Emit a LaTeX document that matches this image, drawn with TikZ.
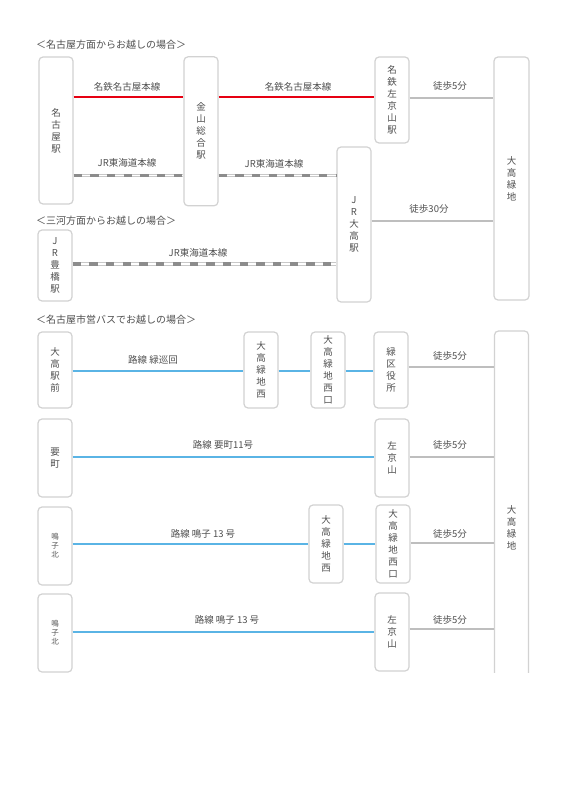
\documentclass[tikz,border=0pt]{standalone}
\usepackage{fontspec}
\setmainfont{Noto Sans CJK JP}
\definecolor{boxgray}{HTML}{D2D2D2}
\definecolor{txt}{HTML}{505050}
\definecolor{meired}{HTML}{E60012}
\definecolor{busblue}{HTML}{5AB4E5}
\definecolor{walkgray}{HTML}{BEBEBE}
\definecolor{jrdark}{HTML}{8C8C8C}
\definecolor{jrlight}{HTML}{C8C8C8}
\begin{document}
\begin{tikzpicture}[x=1pt,y=-1pt,
  box/.style={draw=boxgray, line width=1.2pt, rounded corners=4pt, minimum width=34pt,
    inner sep=0pt, text=txt, font=\fontsize{9.5}{12}\selectfont, align=center},
  smallbox/.style={box, font=\fontsize{7.5}{9}\selectfont},
  lab/.style={text=txt, font=\fontsize{9.5}{11}\selectfont, inner sep=0pt},
  ttl/.style={text=txt, font=\fontsize{10}{12}\selectfont, inner sep=0pt, anchor=west},
  meitetsu/.style={draw=meired, line width=2.2pt},
  bus/.style={draw=busblue, line width=2.4pt},
  walk/.style={draw=walkgray, line width=2.2pt},
  jr/.style={draw=jrlight, line width=3.6pt,
    postaction={draw=white, line width=1.4pt},
    postaction={draw=jrdark, line width=3.6pt, dash pattern=on 8.3pt off 8.4pt}}]
\useasboundingbox[fill=white] (0,0) rectangle (567,802);

% ---- Titles
\node[ttl] (t1) at (36,45) {＜名古屋方面からお越しの場合＞};
\node[ttl] (t2) at (36,221) {＜三河方面からお越しの場合＞};
\node[ttl] (t3) at (36,320) {＜名古屋市営バスでお越しの場合＞};

% ---- Section 1 boxes
\node[box, minimum height=147pt] (nagoya) at (56,130.5) {名\\古\\屋\\駅};
\node[box, minimum height=149pt] (kanayama) at (201,131.3) {金\\山\\総\\合\\駅};
\node[box, minimum height=86pt] (sakyo1) at (392,100) {名\\鉄\\左\\京\\山\\駅};
\node[box, minimum height=243pt, minimum width=35pt] (ryoku1) at (511.5,178.5) {大\\高\\緑\\地};
\node[box, minimum height=155pt] (jrodaka) at (354,224.5) {J\\R\\大\\高\\駅};

% ---- Section 2 boxes
\node[box, minimum height=71pt] (toyohashi) at (55,265.5) {J\\R\\豊\\橋\\駅};

% ---- Section 3 boxes
\node[box, minimum height=76pt] (ekimae) at (55,370) {大\\高\\駅\\前};
\node[box, minimum height=76pt] (nishiA) at (261,370) {大\\高\\緑\\地\\西};
\node[box, minimum height=76pt] (nguchiA) at (328,370) {大\\高\\緑\\地\\西\\口};
\node[box, minimum height=76pt] (kuyaku) at (391,370) {緑\\区\\役\\所};
\begin{scope}
  \clip (0,0) rectangle (567,672.5);
  \node[box, minimum height=394pt] (ryoku2) at (511.5,528) {大\\高\\緑\\地};
\end{scope}
\node[box, minimum height=78pt] (kaname) at (55,458) {要\\町};
\node[box, minimum height=78pt] (sakyo2) at (392,458) {左\\京\\山};
\node[smallbox, minimum height=78pt] (naruko1) at (55,546) {鳴\\子\\北};
\node[box, minimum height=78pt] (nishiB) at (326,544) {大\\高\\緑\\地\\西};
\node[box, minimum height=78pt] (nguchiB) at (393,544) {大\\高\\緑\\地\\西\\口};
\node[smallbox, minimum height=78pt] (naruko2) at (55,633) {鳴\\子\\北};
\node[box, minimum height=78pt] (sakyo3) at (392,632) {左\\京\\山};

% ---- Meitetsu line
\draw[meitetsu] (nagoya.east |- 0,97) -- (kanayama.west |- 0,97);
\draw[meitetsu] (kanayama.east |- 0,97) -- (sakyo1.west |- 0,97);
\node[lab] (m1) at (127,87) {名鉄名古屋本線};
\node[lab] (m2) at (298,87) {名鉄名古屋本線};

% ---- JR lines
\draw[jr] (nagoya.east |- 0,175.5) -- (kanayama.west |- 0,175.5);
\draw[jr] (kanayama.east |- 0,175.5) -- (jrodaka.west |- 0,175.5);
\node[lab] (j1) at (127,163) {JR東海道本線};
\node[lab] (j2) at (274,163.5) {JR東海道本線};
\draw[jr] (toyohashi.east |- 0,264) -- (jrodaka.west |- 0,264);
\node[lab] (j3) at (198,253) {JR東海道本線};

% ---- Walk lines
\draw[walk] (sakyo1.east |- 0,98) -- (ryoku1.west |- 0,98);
\node[lab] (w1) at (450,86) {徒歩5分};
\draw[walk] (jrodaka.east |- 0,221) -- (ryoku1.west |- 0,221);
\node[lab] (w2) at (429,209) {徒歩30分};
\draw[walk] (kuyaku.east |- 0,367) -- (ryoku2.west |- 0,367);
\node[lab] (w3) at (450,356) {徒歩5分};
\draw[walk] (sakyo2.east |- 0,457) -- (ryoku2.west |- 0,457);
\node[lab] (w4) at (450,445) {徒歩5分};
\draw[walk] (nguchiB.east |- 0,543) -- (ryoku2.west |- 0,543);
\node[lab] (w5) at (450,534) {徒歩5分};
\draw[walk] (sakyo3.east |- 0,629) -- (ryoku2.west |- 0,629);
\node[lab] (w6) at (450,620) {徒歩5分};

% ---- Bus lines
\draw[bus] (ekimae.east |- 0,371) -- (nishiA.west |- 0,371);
\draw[bus] (nishiA.east |- 0,371) -- (nguchiA.west |- 0,371);
\draw[bus] (nguchiA.east |- 0,371) -- (kuyaku.west |- 0,371);
\node[lab] (b1) at (153,360) {路線\ 緑巡回};
\draw[bus] (kaname.east |- 0,457) -- (sakyo2.west |- 0,457);
\node[lab] (b2) at (223,445) {路線\ 要町11号};
\draw[bus] (naruko1.east |- 0,544) -- (nishiB.west |- 0,544);
\draw[bus] (nishiB.east |- 0,544) -- (nguchiB.west |- 0,544);
\node[lab] (b3) at (203,534) {路線\ 鳴子 13 号};
\draw[bus] (naruko2.east |- 0,632) -- (sakyo3.west |- 0,632);
\node[lab] (b4) at (227,620) {路線\ 鳴子 13 号};
\end{tikzpicture}
\end{document}
